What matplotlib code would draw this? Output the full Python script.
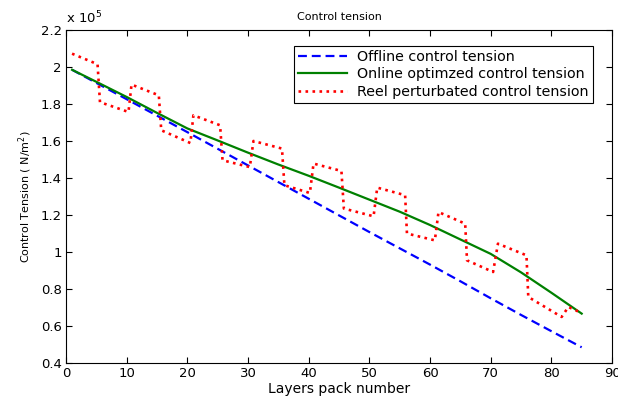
import numpy as np
import matplotlib
matplotlib.use('Agg')
import matplotlib.pyplot as plt

plt.rcParams['font.family'] = ['DejaVu Sans']

# layer pack numbers and tensions (x 1e5 N/m^2)
x_grid = [1, 5, 10, 15, 20, 25, 30, 35, 40, 45, 50, 55, 60, 65, 70, 75, 80, 85]
offline = [1.985, 1.914, 1.826, 1.737, 1.648, 1.558, 1.468, 1.378, 1.288,
           1.198, 1.108, 1.020, 0.932, 0.842, 0.750, 0.660, 0.572, 0.485]
online = [1.985, 1.920, 1.838, 1.752, 1.668, 1.603, 1.537, 1.473, 1.412,
          1.348, 1.283, 1.218, 1.146, 1.068, 0.990, 0.890, 0.780, 0.667]

reel_x = [1, 5.2, 5.6, 10.3, 10.8, 15.3, 15.7, 20.5, 21.0, 25.4, 25.8, 30.3,
          30.9, 35.6, 36.0, 40.2, 40.8, 45.4, 45.8, 50.7, 51.3, 55.9, 56.2,
          60.8, 61.4, 65.8, 66.1, 70.4, 71.2, 75.9, 76.2, 81.7, 82.8, 85]
reel = [2.072, 2.015, 1.810, 1.757, 1.905, 1.847, 1.658, 1.589, 1.739, 1.685,
        1.496, 1.459, 1.600, 1.559, 1.361, 1.319, 1.478, 1.438, 1.235, 1.193,
        1.348, 1.307, 1.100, 1.063, 1.216, 1.153, 0.955, 0.892, 1.045, 0.982,
        0.757, 0.649, 0.703, 0.670]

fig = plt.figure(figsize=(6.18, 3.99), dpi=100)
ax = fig.add_axes([0.1068, 0.0902, 0.8835, 0.8346])

ax.plot(x_grid, offline, '--', color='blue', lw=1.6, dashes=(4, 2.2),
        label='Offline control tension')
ax.plot(x_grid, online, '-', color=(0, 0.5, 0), lw=1.6,
        label='Online optimzed control tension')
ax.plot(reel_x, reel, ':', color='red', lw=1.9,
        label='Reel perturbated control tension')

ax.set_xlim(0, 90)
ax.set_ylim(0.4, 2.2)
ax.set_xticks(np.arange(0, 91, 10))
ax.set_yticks([0.4, 0.6, 0.8, 1.0, 1.2, 1.4, 1.6, 1.8, 2.0, 2.2])
ax.set_yticklabels(['0.4', '0.6', '0.8', '1', '1.2', '1.4', '1.6', '1.8', '2', '2.2'])
ax.tick_params(direction='in', top=True, right=True, labelsize=9.5, length=4, pad=3)

ax.set_title('Control tension', fontsize=8, pad=7)
ax.set_xlabel('Layers pack number', fontsize=10, labelpad=1)
ax.set_ylabel('Control Tension ( N/m$^2$)', fontsize=8, labelpad=5)
ax.text(0.0, 1.012, r'x 10$^5$', transform=ax.transAxes, fontsize=9.5,
        ha='left', va='bottom')

leg = ax.legend(loc='upper right', bbox_to_anchor=(0.965, 0.952), fontsize=10.3,
                fancybox=False, edgecolor='black', framealpha=1,
                handlelength=3.4, handletextpad=0.7, borderpad=0.3,
                labelspacing=0.22, borderaxespad=0)
leg.get_frame().set_linewidth(0.8)

fig.savefig('out.png', dpi=100)
